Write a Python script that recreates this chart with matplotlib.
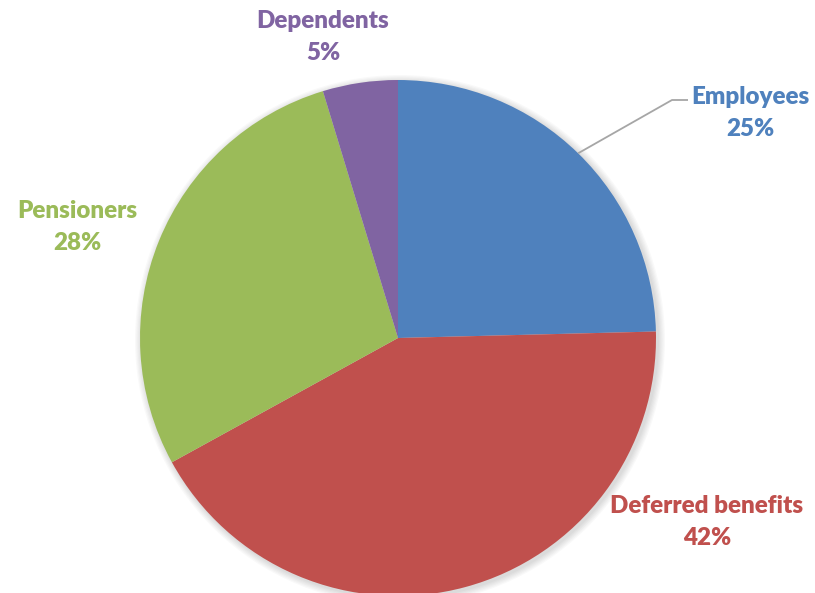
import numpy as np
import matplotlib.pyplot as plt

# slice data (clockwise from the top)
labels = ['Employees', 'Deferred benefits', 'Pensioners', 'Dependents']
values = [24.6, 42.4, 28.3, 4.7]
colors = ['#4F81BD', '#C0504D', '#9BBB59', '#8064A2']

# label positions in pixels (x, y from top), one per slice
label_pos = [(750, 113), (707, 522), (77, 227), (323, 37)]

W, H = 815, 593
fig = plt.figure(figsize=(W / 100, H / 100), dpi=100)
ax = fig.add_axes([0, 0, 1, 1])
ax.set_xlim(0, W)
ax.set_ylim(0, H)
ax.set_aspect('equal')
ax.axis('off')

cx, cy, r = 398, H - 338, 258

# soft shadow under the pie
for k in range(6):
    shadow = plt.Circle((cx + 2, cy - 2), r + 1 + k * 1.2, color='black',
                        alpha=0.025, zorder=0, lw=0)
    ax.add_patch(shadow)

wedges, _ = ax.pie(values, colors=colors, startangle=90, counterclock=False,
                   center=(cx, cy), radius=r, frame=True,
                   wedgeprops=dict(linewidth=0))
ax.set_xlim(0, W)
ax.set_ylim(0, H)
ax.axis('off')

for lab, val, col, (tx, ty) in zip(labels, values, colors, label_pos):
    ax.text(tx, H - ty, f'{lab}\n{round(val):.0f}%', color=col, ha='center',
            va='center', fontsize=17.4, fontweight='heavy', family='Lato',
            linespacing=1.55)

# leader line for Employees
w = wedges[0]
mid = np.deg2rad((w.theta1 + w.theta2) / 2)
x0, y0 = cx + r * np.cos(mid), cy + r * np.sin(mid)
ax.plot([x0, 672, 688], [y0, H - 100, H - 100], color='#A6A6A6', lw=1.3,
        solid_capstyle='butt')

fig.savefig('out.png', dpi=100)
